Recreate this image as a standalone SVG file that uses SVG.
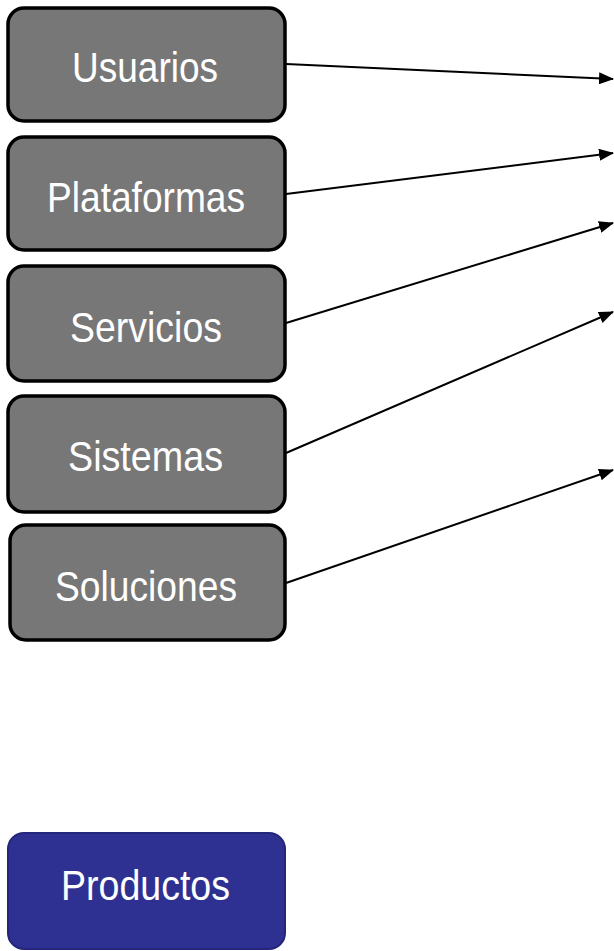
<svg xmlns="http://www.w3.org/2000/svg" width="614" height="951" viewBox="0 0 614 951">
<style>
.box{fill:#777777;stroke:#000;stroke-width:3.5}
.prod{fill:#2e3192;stroke:#23267a;stroke-width:2}
.lbl{font-family:"Liberation Sans",Arial,sans-serif;font-size:43px;fill:#fff}
.conn{stroke:#000;stroke-width:2;fill:none;marker-end:url(#ah)}
</style>
<defs>
<marker id="ah" markerWidth="15" markerHeight="12" refX="14" refY="6" orient="auto" markerUnits="userSpaceOnUse">
<path d="M0,0 L15,6 L0,12 z" fill="#000"/>
</marker>
</defs>
<g id="usuarios"><rect class="box" x="8" y="8" width="277" height="113" rx="16"/><text class="lbl" x="72" y="82" textLength="146" lengthAdjust="spacingAndGlyphs">Usuarios</text></g>
<g id="plataformas"><rect class="box" x="8" y="137" width="277" height="113" rx="16"/><text class="lbl" x="47" y="212" textLength="198" lengthAdjust="spacingAndGlyphs">Plataformas</text></g>
<g id="servicios"><rect class="box" x="8" y="266" width="277" height="115" rx="16"/><text class="lbl" x="70" y="342" textLength="152" lengthAdjust="spacingAndGlyphs">Servicios</text></g>
<g id="sistemas"><rect class="box" x="8" y="396" width="277" height="116" rx="16"/><text class="lbl" x="68" y="471" textLength="155" lengthAdjust="spacingAndGlyphs">Sistemas</text></g>
<g id="soluciones"><rect class="box" x="10" y="525" width="275" height="115" rx="16"/><text class="lbl" x="55" y="601" textLength="182" lengthAdjust="spacingAndGlyphs">Soluciones</text></g>
<g id="productos"><rect class="prod" x="8" y="833" width="277" height="116" rx="16"/><text class="lbl" x="61" y="900" textLength="169" lengthAdjust="spacingAndGlyphs">Productos</text></g>
<g id="connectors">
<line class="conn" x1="286" y1="64" x2="613" y2="79"/>
<line class="conn" x1="286" y1="194" x2="613" y2="153"/>
<line class="conn" x1="286" y1="323" x2="613" y2="223"/>
<line class="conn" x1="286" y1="453" x2="613" y2="312"/>
<line class="conn" x1="286" y1="583" x2="613" y2="470"/>
</g>
</svg>
